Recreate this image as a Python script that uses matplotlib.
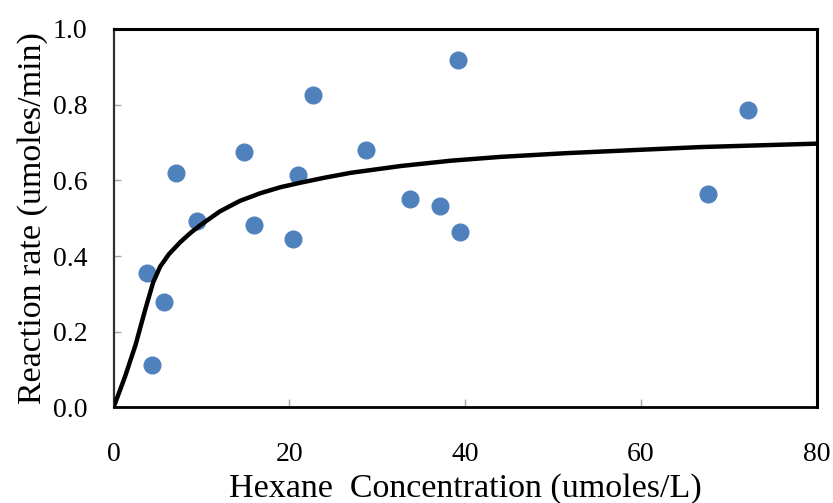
import matplotlib

matplotlib.use("Agg")
import matplotlib.pyplot as plt

# measured points (hexane concentration, reaction rate)
conc = [3.8, 4.4, 5.7, 7.1, 9.5, 14.9, 16.0, 20.4, 21.0, 22.7, 28.7,
        33.7, 37.1, 39.2, 39.4, 67.6, 72.2]
rate = [0.356, 0.112, 0.278, 0.620, 0.492, 0.675, 0.483, 0.444, 0.614,
        0.825, 0.679, 0.552, 0.532, 0.917, 0.463, 0.565, 0.785]

# fitted curve
fit_x = [0, 1.3, 2.5, 3.6, 4.5, 5.3, 6.3, 7.6, 8.8, 9.9, 12.1, 14.4, 16.7,
         19.0, 21.3, 24.0, 27.0, 32.7, 38.4, 44.0, 51.6, 59.2, 66.8, 80.0]
fit_y = [0, 0.081, 0.165, 0.258, 0.330, 0.372, 0.405, 0.437, 0.462, 0.482,
         0.518, 0.546, 0.566, 0.582, 0.594, 0.607, 0.620, 0.638, 0.652,
         0.662, 0.672, 0.680, 0.688, 0.697]

xticks = [0, 20, 40, 60, 80]
yticks = [0.0, 0.2, 0.4, 0.6, 0.8, 1.0]

plt.rcParams["font.family"] = ["Liberation Serif", "DejaVu Serif"]

fig = plt.figure(figsize=(8.33, 5.03), dpi=100)
ax = fig.add_axes([0.1363, 0.1899, 0.8439, 0.7525])

ax.plot(conc, rate, "o", color="#4F81BD", markersize=12, mec="#4F81BD",
        zorder=2, clip_on=False)
ax.plot(fit_x, fit_y, color="black", lw=3.2, zorder=3,
        solid_joinstyle="round", solid_capstyle="butt")

ax.set_xlim(0, 80)
ax.set_ylim(0, 1.0)
ax.set_xticks(xticks)
ax.set_yticks(yticks)
ax.set_xticklabels([str(t) for t in xticks])
ax.set_yticklabels([f"{t:.1f}" for t in yticks])

ax.tick_params(axis="x", direction="in", length=6, width=1, color="#A6A6A6",
               labelsize=20, pad=25)
ax.tick_params(axis="y", direction="in", length=5, width=1, color="#A6A6A6",
               labelsize=20, pad=19)

for side in ("top", "right"):
    ax.spines[side].set_linewidth(2.2)
    ax.spines[side].set_color("black")
ax.spines["bottom"].set_linewidth(2)
ax.spines["bottom"].set_color("black")
ax.spines["left"].set_linewidth(1.6)
ax.spines["left"].set_color("#303030")

ax.set_xlabel("Hexane  Concentration (umoles/L)", fontsize=24.5, labelpad=4)
ax.set_ylabel("Reaction rate (umoles/min)", fontsize=24.5, labelpad=3)

fig.savefig("out.png", dpi=100)
